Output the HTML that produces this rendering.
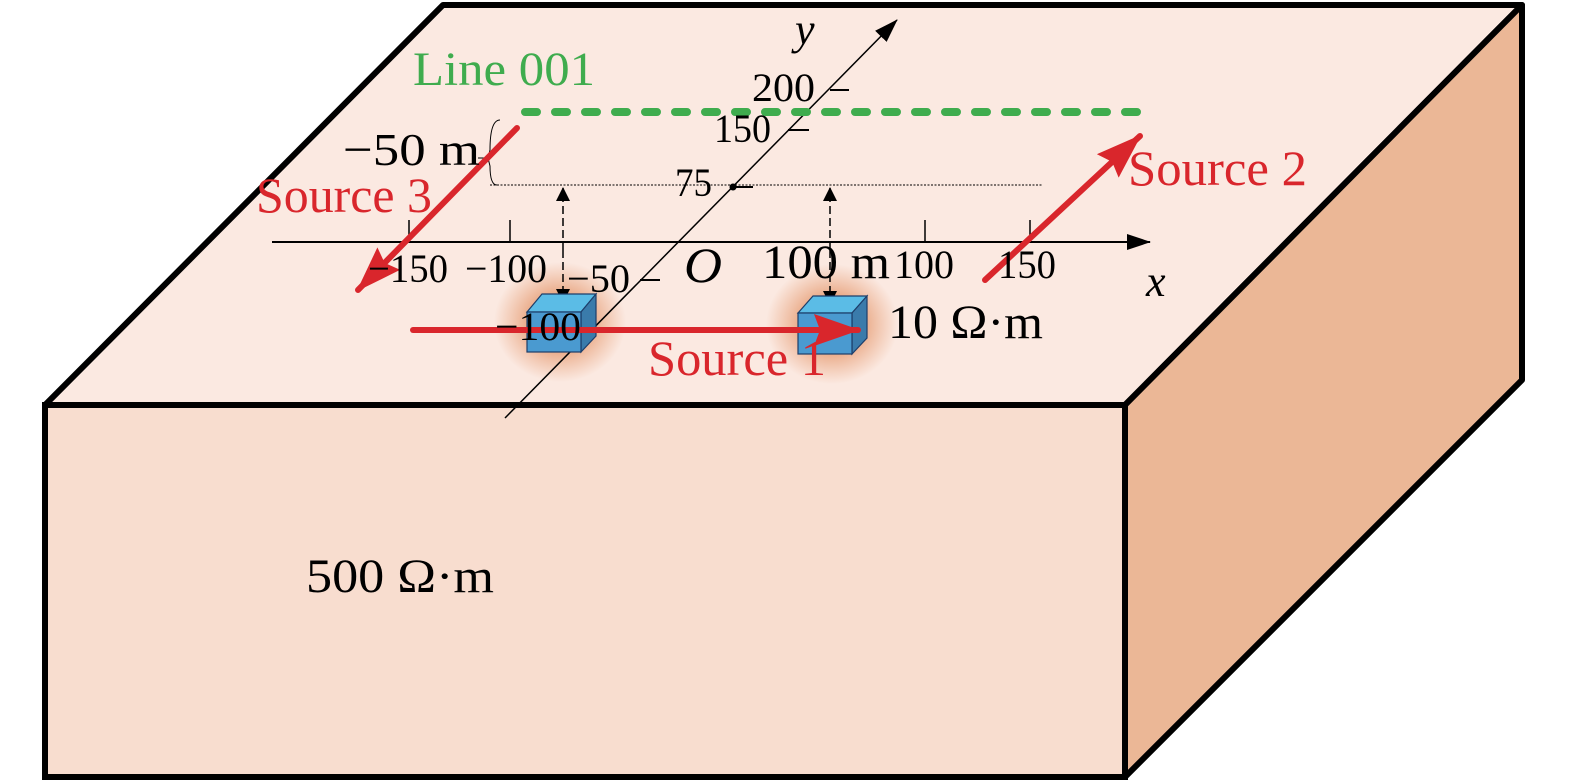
<!DOCTYPE html>
<html><head><style>body{margin:0;background:#fff}svg{display:block}text{font-family:"Liberation Serif",serif}</style></head><body>
<svg width="1575" height="784" viewBox="0 0 1575 784" xmlns="http://www.w3.org/2000/svg">
<defs>
<radialGradient id="g"><stop offset="0.35" stop-color="#e59a70" stop-opacity="1"/><stop offset="1" stop-color="#e8a27c" stop-opacity="0"/></radialGradient>
<marker id="ab" markerWidth="14" markerHeight="20" refX="13" refY="7" orient="auto" markerUnits="userSpaceOnUse"><path d="M0,0L14,7L0,14z" fill="#000"/></marker>
<marker id="ab2" markerWidth="24" markerHeight="16" refX="23" refY="8" orient="auto" markerUnits="userSpaceOnUse"><path d="M0,0L24,8L0,16z" fill="#000"/></marker>
<marker id="ar" markerWidth="46" markerHeight="32" refX="44" refY="16" orient="auto" markerUnits="userSpaceOnUse"><path d="M0,0L46,16L0,32L6,16z" fill="#d9262c"/></marker>
</defs>
<polygon points="443,5 1522,5 1125,405 45,405" fill="#fbe9e1" stroke="#000" stroke-width="6" stroke-linejoin="round"/>
<polygon points="1522,5 1522,380 1125,777 1125,405" fill="#ebb796" stroke="#000" stroke-width="6" stroke-linejoin="round"/>
<rect x="45" y="405" width="1080" height="372" fill="#f8ddcf" stroke="#000" stroke-width="6"/>
<ellipse cx="560" cy="322" rx="66" ry="60" fill="url(#g)"/>
<ellipse cx="832" cy="324" rx="66" ry="60" fill="url(#g)"/>
<line x1="490" y1="185" x2="1042" y2="185" stroke="#000" stroke-width="1" stroke-dasharray="2,1.5"/>
<line x1="272" y1="242" x2="1150" y2="242" stroke="#000" stroke-width="2" marker-end="url(#ab2)"/>
<line x1="505" y1="418" x2="897" y2="20" stroke="#000" stroke-width="1.5" marker-end="url(#ab2)"/>
<g stroke="#000" stroke-width="1.5">
<line x1="409" y1="220" x2="409" y2="242"/><line x1="510" y1="220" x2="510" y2="242"/><line x1="925" y1="220" x2="925" y2="242"/><line x1="1030" y1="220" x2="1030" y2="242"/>
<line x1="733" y1="187" x2="753" y2="187" stroke-width="2"/><line x1="788" y1="130" x2="809" y2="130" stroke-width="2"/><line x1="830" y1="90" x2="849" y2="90" stroke-width="2"/><line x1="640" y1="280" x2="660" y2="280" stroke-width="2"/>
<path d="M500,120 Q490,120 490,150 L488,158 L490,166 Q490,185 497,185" fill="none" stroke-width="1"/>
<line x1="478" y1="158" x2="490" y2="158" stroke-width="1"/>
</g>
<circle cx="733" cy="187" r="3.5"/>
<line x1="563" y1="250" x2="563" y2="188" stroke="#000" stroke-width="1.5" stroke-dasharray="8,4" marker-end="url(#ab)"/>
<line x1="563" y1="250" x2="563" y2="302" stroke="#000" stroke-width="1.5" stroke-dasharray="8,4" marker-end="url(#ab)"/>
<line x1="830" y1="250" x2="830" y2="188" stroke="#000" stroke-width="1.5" stroke-dasharray="8,4" marker-end="url(#ab)"/>
<line x1="830" y1="250" x2="830" y2="304" stroke="#000" stroke-width="1.5" stroke-dasharray="8,4" marker-end="url(#ab)"/>
<g stroke="#1d3e6a" stroke-width="1.2">
<polygon points="527,312 542,294 596,294 581,312" fill="#5bbce6"/><polygon points="581,312 596,294 596,336 581,352" fill="#3a7bab"/><rect x="527" y="312" width="54" height="40" fill="#4a9ad0"/>
<polygon points="798,313 813,296 867,296 852,313" fill="#5bbce6"/><polygon points="852,313 867,296 867,338 852,354" fill="#3a7bab"/><rect x="798" y="313" width="54" height="41" fill="#4a9ad0"/>
</g>
<line x1="525" y1="112" x2="1150" y2="112" stroke="#3fac4e" stroke-width="8" stroke-linecap="round" stroke-dasharray="12,18"/>
<g stroke="#d9262c" stroke-width="6" stroke-linecap="round" fill="none">
<line x1="413" y1="330" x2="858" y2="330" marker-end="url(#ar)"/>
<line x1="517" y1="128" x2="358" y2="290" marker-end="url(#ar)"/>
<line x1="985" y1="280" x2="1140" y2="136" marker-end="url(#ar)"/>
</g>
<g fill="#000" lengthAdjust="spacingAndGlyphs">
<text x="343" y="165" font-size="46" textLength="137" lengthAdjust="spacingAndGlyphs">−50 m</text>
<text x="368" y="282" font-size="40" textLength="80" lengthAdjust="spacingAndGlyphs">−150</text>
<text x="465" y="282" font-size="40" textLength="82" lengthAdjust="spacingAndGlyphs">−100</text>
<text x="567" y="292" font-size="40" textLength="63" lengthAdjust="spacingAndGlyphs">−50</text>
<text x="495" y="340" font-size="40" textLength="86" lengthAdjust="spacingAndGlyphs">−100</text>
<text x="684" y="282" font-style="italic" font-size="50" textLength="38" lengthAdjust="spacingAndGlyphs">O</text>
<text x="762" y="278" font-size="48" textLength="128" lengthAdjust="spacingAndGlyphs">100 m</text>
<text x="894" y="278" font-size="40" textLength="60" lengthAdjust="spacingAndGlyphs">100</text>
<text x="998" y="278" font-size="40" textLength="58" lengthAdjust="spacingAndGlyphs">150</text>
<text x="1146" y="296" font-style="italic" font-size="44">x</text>
<text x="795" y="44" font-style="italic" font-size="44">y</text>
<text x="752" y="101" font-size="40" textLength="63" lengthAdjust="spacingAndGlyphs">200</text>
<text x="714" y="142" font-size="40" textLength="57" lengthAdjust="spacingAndGlyphs">150</text>
<text x="675" y="196" font-size="40" textLength="37" lengthAdjust="spacingAndGlyphs">75</text>
<text x="888" y="338" font-size="48" textLength="155" lengthAdjust="spacingAndGlyphs">10 Ω·m</text>
<text x="306" y="592" font-size="48" textLength="188" lengthAdjust="spacingAndGlyphs">500 Ω·m</text>
</g>
<text x="413" y="85" font-size="48" fill="#3fac4e" textLength="182" lengthAdjust="spacingAndGlyphs">Line 001</text>
<g font-size="50" fill="#d9262c">
<text x="256" y="212" textLength="176" lengthAdjust="spacingAndGlyphs">Source 3</text>
<text x="1128" y="185" textLength="179" lengthAdjust="spacingAndGlyphs">Source 2</text>
<text x="648" y="375" textLength="178" lengthAdjust="spacingAndGlyphs">Source 1</text>
</g>
</svg>
</body></html>
